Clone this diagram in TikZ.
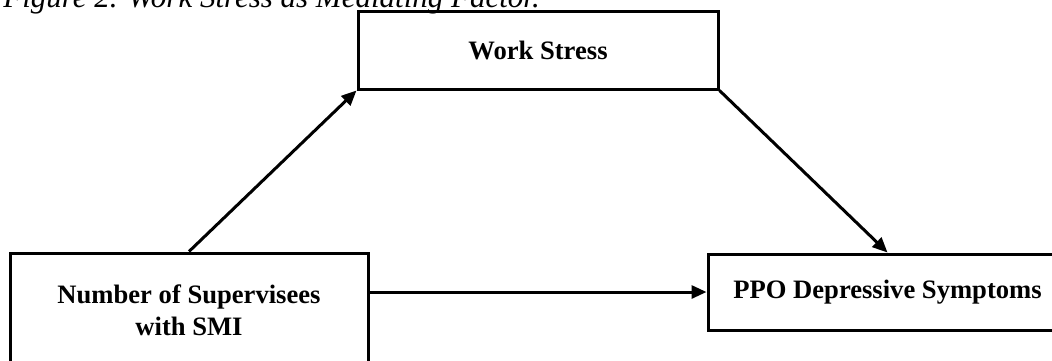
\documentclass[tikz,border=0pt]{standalone}
\usepackage{fontspec}
\setmainfont{Liberation Serif}
\usetikzlibrary{arrows.meta, positioning, calc}

\begin{document}
\begin{tikzpicture}[x=0.5pt, y=-0.5pt,
  box/.style={draw, line width=1.5pt, align=center, inner sep=0pt,
    font=\fontsize{13.3}{16}\selectfont\bfseries},
  link/.style={-{Triangle[length=7.5pt, width=6.5pt]}, line width=1.5pt}]
  \useasboundingbox (0,0) rectangle (1052,360);
  % caption, cut at the top
  \node[anchor=base west, inner sep=0pt, font=\fontsize{15.5}{18}\selectfont\itshape] (caption) at (3,7) {Figure 2. Work Stress as Mediating Factor.};
  % the three variables
  \node[box, minimum width=180pt, minimum height=39pt] (stress) at (538,50) {Work Stress};
  \node[box, minimum width=179pt, minimum height=57pt] (supv) at (189,310) {Number of Supervisees\\with SMI};
  \node[box, minimum width=179.5pt, minimum height=38pt] (ppo) at (887.5,292) {PPO Depressive Symptoms};
  % paths
  \draw[link] (supv.north) -- (stress.south west);
  \draw[link] (stress.south east) -- (ppo.north);
  \draw[link] (supv.east |- ppo.west) -- (ppo.west);
\end{tikzpicture}
\end{document}
